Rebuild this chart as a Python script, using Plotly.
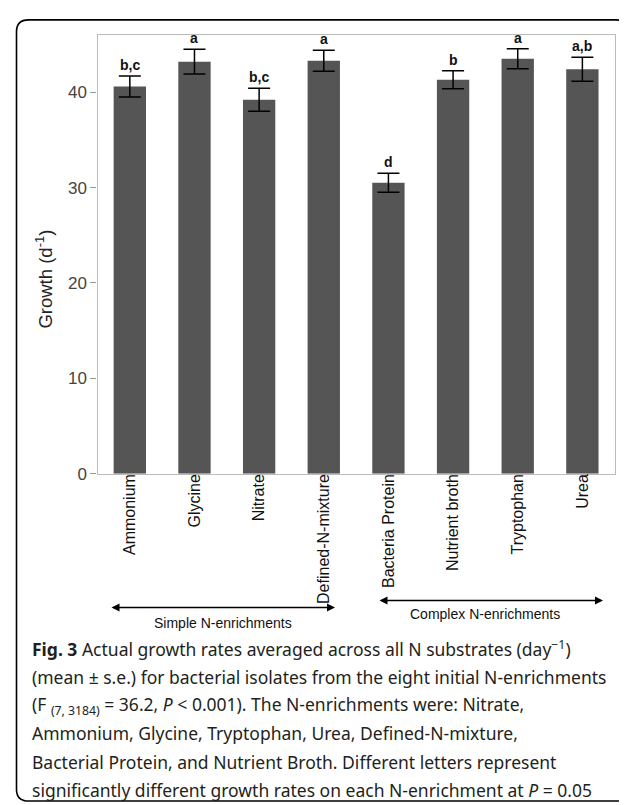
import plotly.graph_objects as go

W, H = 627, 805

categories = ["Ammonium", "Glycine", "Nitrate", "Defined-N-mixture",
              "Bacteria Protein", "Nutrient broth", "Tryptophan", "Urea"]
growth = [40.6, 43.2, 39.2, 43.3, 30.5, 41.3, 43.5, 42.4]
se = [1.1, 1.3, 1.2, 1.1, 1.0, 0.95, 1.05, 1.25]
letters = ["b,c", "a", "b,c", "a", "d", "b", "a", "a,b"]
y_ticks = [0, 10, 20, 30, 40]

caption_lines = [
    "<b>Fig. 3</b> Actual growth rates averaged across all N substrates (day<sup>\u22121</sup>)",
    "(mean \u00b1 s.e.) for bacterial isolates from the eight initial N-enrichments",
    "(F <sub>(7, 3184)</sub> = 36.2, <i>P</i> < 0.001). The N-enrichments were: Nitrate,",
    "Ammonium, Glycine, Tryptophan, Urea, Defined-N-mixture,",
    "Bacterial Protein, and Nutrient Broth. Different letters represent",
    "significantly different growth rates on each N-enrichment at <i>P</i> = 0.05",
]

def px(x):
    return x / W

def py(y):
    return 1 - y / H

AX = "Liberation Sans, Arial, sans-serif"
CAP = "Noto Sans, Open Sans, sans-serif"

fig = go.Figure()
fig.add_trace(go.Bar(
    x=categories, y=growth, width=0.5,
    marker=dict(color="#555555", line=dict(width=0)),
    error_y=dict(type="data", array=se, visible=True, color="#000000",
                 thickness=1.5, width=11),
    hoverinfo="skip",
))

annotations = []
for c, v, e, l in zip(categories, growth, se, letters):
    annotations.append(dict(x=c, y=v + e, xref="x", yref="y", text="<b>" + l + "</b>",
                            showarrow=False, yanchor="bottom", yshift=1,
                            font=dict(family=AX, size=14, color="#111111")))

# y axis title
annotations.append(dict(x=px(36), y=py(275), xref="paper", yref="paper",
                        text="Growth (d<sup>-1</sup>)", textangle=-90, showarrow=False,
                        xanchor="center", yanchor="middle",
                        font=dict(family=AX, size=18.5, color="#222222")))

# group arrows (double-headed)
def double_arrow(xa, xb, yy):
    return dict(x=px(xb), y=py(yy), ax=-(xb - xa), ay=0,
                xref="paper", yref="paper", axref="pixel", ayref="pixel",
                text="", showarrow=True, arrowhead=2, startarrowhead=2,
                arrowside="end+start", arrowsize=1, arrowwidth=1.6,
                arrowcolor="#000000")

annotations.append(double_arrow(102, 327, 607))
annotations.append(double_arrow(370, 595, 600))
annotations.append(dict(x=px(215), y=py(623), xref="paper", yref="paper",
                        text="Simple N-enrichments", showarrow=False,
                        xanchor="center", yanchor="middle",
                        font=dict(family=AX, size=14, color="#111111")))
annotations.append(dict(x=px(477), y=py(614), xref="paper", yref="paper",
                        text="Complex N-enrichments", showarrow=False,
                        xanchor="center", yanchor="middle",
                        font=dict(family=AX, size=14, color="#111111")))

# caption
cap_y = [649, 677.5, 706, 734.5, 763, 791.5]
for t, yy in zip(caption_lines, cap_y):
    annotations.append(dict(x=px(22), y=py(yy), xref="paper", yref="paper",
                            text=t, showarrow=False, xanchor="left", yanchor="middle",
                            font=dict(family=CAP, size=17.5, color="#231f20")))

# outer rounded box
x0, y0, x1, y1, r = px(8.5), py(12), px(620), py(803), 12
rx, ry = r / W, r / H
path = (f"M {x0+rx},{y0} L {x1-rx},{y0} Q {x1},{y0} {x1},{y0-ry} "
        f"L {x1},{y1+ry} Q {x1},{y1} {x1-rx},{y1} L {x0+rx},{y1} "
        f"Q {x0},{y1} {x0},{y1+ry} L {x0},{y0-ry} Q {x0},{y0} {x0+rx},{y0} Z")
shapes = [dict(type="path", path=path, xref="paper", yref="paper",
               line=dict(color="#000000", width=1.6), fillcolor="rgba(0,0,0,0)")]

fig.update_layout(
    width=W, height=H,
    margin=dict(l=0, r=0, t=0, b=0),
    paper_bgcolor="white", plot_bgcolor="white",
    showlegend=False, bargap=0.5,
    annotations=annotations, shapes=shapes,
    xaxis=dict(domain=[px(89.5), px(606.7)], tickangle=-90,
               tickfont=dict(family=AX, size=16, color="#111111"),
               showline=True, linecolor="#bbbbbb", linewidth=1.2, mirror=True,
               ticks="", showgrid=False, ticklabelstandoff=-7),
    yaxis=dict(domain=[py(471.5), py(27.3)], range=[0, 46], tickvals=y_ticks,
               tickfont=dict(family=AX, size=17, color="#444444"),
               showline=True, linecolor="#bbbbbb", linewidth=1.2, mirror=True,
               ticks="outside", ticklen=6, tickcolor="#999999", showgrid=False,
               zeroline=False),
)

fig.write_html("out.html")
